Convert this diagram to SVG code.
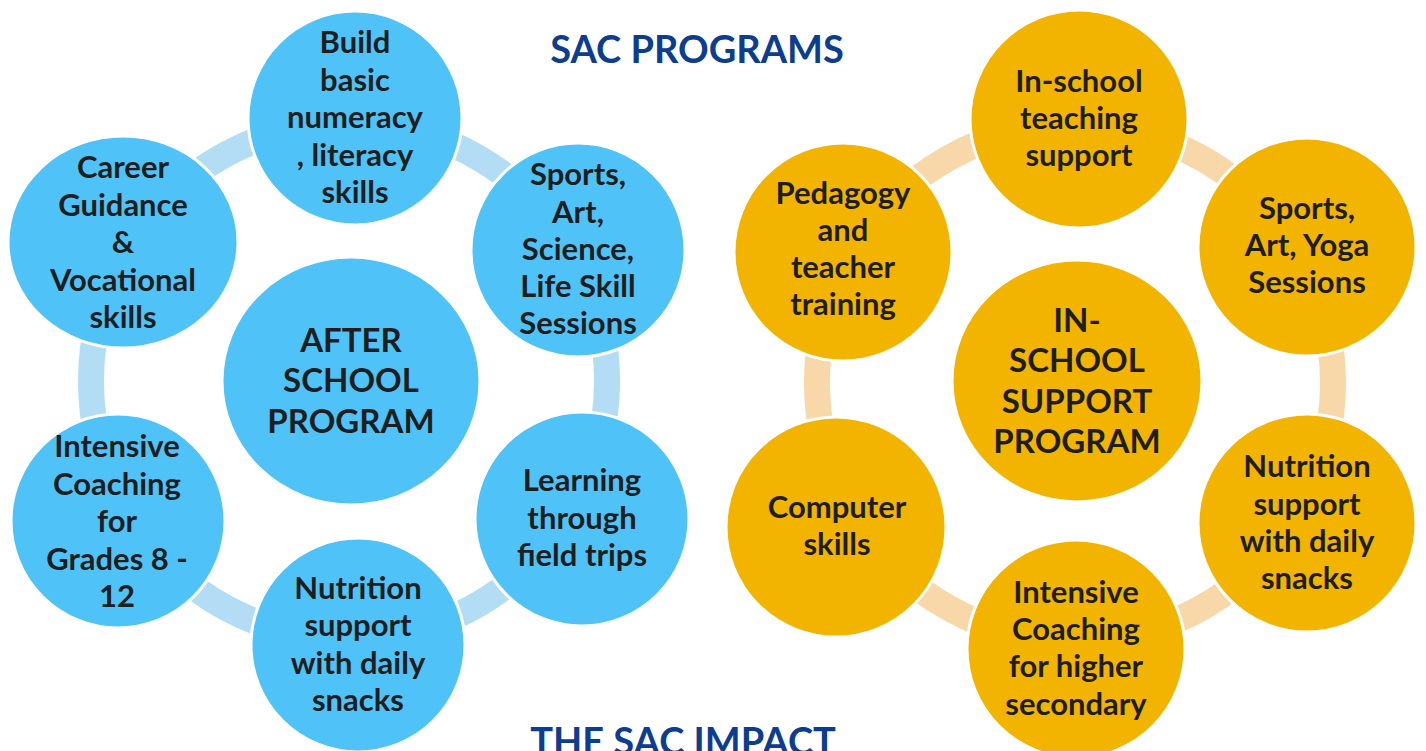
<svg xmlns="http://www.w3.org/2000/svg" width="1426" height="751" viewBox="0 0 1426 751">
<style>
.b{fill:#4FC3F7;stroke:#fff;stroke-width:3}
.g{fill:#F3B400;stroke:#fff;stroke-width:3}
.cb{fill:none;stroke:#B3DDF5;stroke-width:26}
.cg{fill:none;stroke:#F8D7A9;stroke-width:26}
.t{font-family:Lato,"Liberation Sans",sans-serif;font-weight:bold;font-size:31px;fill:#1E1E1E;text-anchor:middle}
.h{font-size:33px}
.title{font-family:Lato,"Liberation Sans",sans-serif;font-weight:bold;font-size:38px;fill:#0C3D8F;text-anchor:middle}
</style>
<rect width="1426" height="751" fill="#fff"/>
<text class="title" x="697" y="63">SAC PROGRAMS</text>
<text class="title" x="683" y="755">THE SAC IMPACT</text>
<g id="connectors">
<path class="cb" d="M354.9 123.1 A258 258 0 0 1 573.0 252.9"/>
<path class="cb" d="M573.0 252.9 A258 258 0 0 1 571.0 512.5"/>
<path class="cb" d="M571.0 512.5 A258 258 0 0 1 357.8 638.9"/>
<path class="cb" d="M357.8 638.9 A258 258 0 0 1 128.3 514.7"/>
<path class="cb" d="M128.3 514.7 A258 258 0 0 1 129.3 245.8"/>
<path class="cb" d="M129.3 245.8 A258 258 0 0 1 354.9 123.1"/>
<path class="cg" d="M1078.9 125.0 A258 258 0 0 1 1297.6 252.5"/>
<path class="cg" d="M1297.6 252.5 A258 258 0 0 1 1295.9 516.3"/>
<path class="cg" d="M1295.9 516.3 A258 258 0 0 1 1076.0 641.0"/>
<path class="cg" d="M1076.0 641.0 A258 258 0 0 1 854.0 516.2"/>
<path class="cg" d="M854.0 516.2 A258 258 0 0 1 850.3 256.1"/>
<path class="cg" d="M850.3 256.1 A258 258 0 0 1 1078.9 125.0"/>
</g>
<g id="after-school">
<ellipse class="b" cx="351" cy="381" rx="129" ry="124"/>
<text class="t h"><tspan x="351" y="352">AFTER</tspan><tspan x="351" y="392">SCHOOL</tspan><tspan x="351" y="433">PROGRAM</tspan></text>
</g>
<g id="build-basic">
<circle class="b" cx="355" cy="118" r="107"/>
<text class="t"><tspan x="355" y="53">Build</tspan><tspan x="355" y="90.5">basic</tspan><tspan x="355" y="128">numeracy</tspan><tspan x="355" y="165.5">, literacy</tspan><tspan x="355" y="203">skills</tspan></text>
</g>
<g id="sports-left">
<circle class="b" cx="578" cy="250" r="107"/>
<text class="t"><tspan x="578" y="185">Sports,</tspan><tspan x="578" y="222.5">Art,</tspan><tspan x="578" y="260">Science,</tspan><tspan x="578" y="297">Life Skill</tspan><tspan x="578" y="334">Sessions</tspan></text>
</g>
<g id="learning">
<circle class="b" cx="582" cy="519" r="107"/>
<text class="t"><tspan x="582" y="491">Learning</tspan><tspan x="582" y="528.5">through</tspan><tspan x="582" y="566">field trips</tspan></text>
</g>
<g id="nutrition-left">
<circle class="b" cx="358" cy="645" r="107"/>
<text class="t"><tspan x="358" y="599">Nutrition</tspan><tspan x="358" y="636">support</tspan><tspan x="358" y="674">with daily</tspan><tspan x="358" y="711">snacks</tspan></text>
</g>
<g id="intensive-left">
<circle class="b" cx="118" cy="521" r="107"/>
<text class="t"><tspan x="117" y="457">Intensive</tspan><tspan x="117" y="494.5">Coaching</tspan><tspan x="117" y="532">for</tspan><tspan x="117" y="569.5">Grades 8 -</tspan><tspan x="117" y="607">12</tspan></text>
</g>
<g id="career">
<ellipse class="b" cx="123" cy="242" rx="115" ry="106"/>
<text class="t"><tspan x="123" y="178">Career</tspan><tspan x="123" y="215.5">Guidance</tspan><tspan x="123" y="253">&amp;</tspan><tspan x="123" y="290.5">Vocational</tspan><tspan x="123" y="328">skills</tspan></text>
</g>
<g id="in-school-support">
<ellipse class="g" cx="1077" cy="381" rx="125" ry="121"/>
<text class="t h"><tspan x="1077" y="332">IN-</tspan><tspan x="1077" y="372">SCHOOL</tspan><tspan x="1077" y="412.5">SUPPORT</tspan><tspan x="1077" y="453">PROGRAM</tspan></text>
</g>
<g id="in-school-teaching">
<circle class="g" cx="1079" cy="119" r="109"/>
<text class="t"><tspan x="1079" y="91.5">In-school</tspan><tspan x="1079" y="128.5">teaching</tspan><tspan x="1079" y="165.5">support</tspan></text>
</g>
<g id="sports-right">
<circle class="g" cx="1307" cy="247" r="109"/>
<text class="t"><tspan x="1307" y="219">Sports,</tspan><tspan x="1307" y="256">Art, Yoga</tspan><tspan x="1307" y="293">Sessions</tspan></text>
</g>
<g id="nutrition-right">
<circle class="g" cx="1307" cy="523" r="109"/>
<text class="t"><tspan x="1307" y="477">Nutrition</tspan><tspan x="1307" y="514.5">support</tspan><tspan x="1307" y="552">with daily</tspan><tspan x="1307" y="589">snacks</tspan></text>
</g>
<g id="intensive-right">
<circle class="g" cx="1076" cy="649" r="109"/>
<text class="t"><tspan x="1076" y="603">Intensive</tspan><tspan x="1076" y="640">Coaching</tspan><tspan x="1076" y="677">for higher</tspan><tspan x="1076" y="715">secondary</tspan></text>
</g>
<g id="computer">
<circle class="g" cx="836" cy="527" r="110"/>
<text class="t"><tspan x="837" y="518">Computer</tspan><tspan x="837" y="555">skills</tspan></text>
</g>
<g id="pedagogy">
<circle class="g" cx="843" cy="252" r="109"/>
<text class="t"><tspan x="843" y="204">Pedagogy</tspan><tspan x="843" y="241">and</tspan><tspan x="843" y="278">teacher</tspan><tspan x="843" y="315">training</tspan></text>
</g>
</svg>
